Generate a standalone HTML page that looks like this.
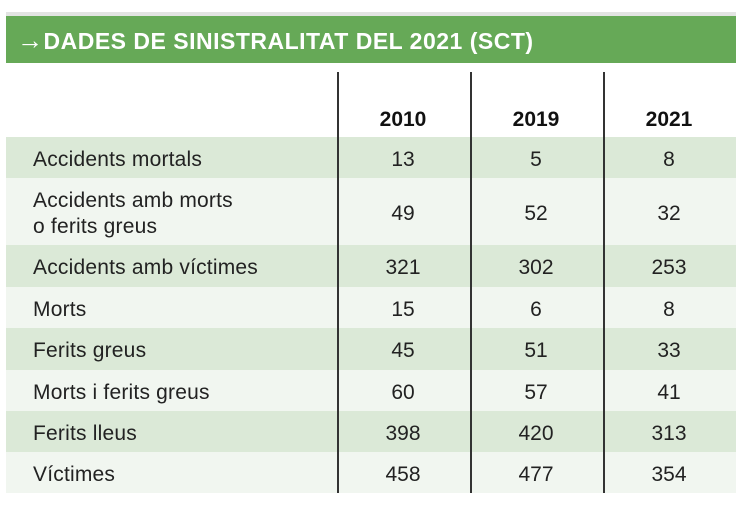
<!DOCTYPE html>
<html><head><meta charset="utf-8"><style>
body{margin:0;width:743px;height:513px;background:#fff;position:relative;font-family:"Liberation Sans",sans-serif;overflow:hidden}
.top{position:absolute;left:6px;top:12px;width:730px;height:5px;background:#e2e4e2}
.hdr{position:absolute;left:6px;top:16px;width:730px;height:47px;background:#66a957;color:#fff;font-weight:bold;font-size:23px;line-height:49px;padding-left:11px;box-sizing:border-box;letter-spacing:0.5px}
.row{position:absolute;left:6px;width:730px}
.d{background:#dbe9d7}.l{background:#f1f6f0}
.lab{position:absolute;left:27px;font-size:21px;color:#222;line-height:26px;letter-spacing:0.2px}
.v{position:absolute;width:100px;text-align:center;font-size:21px;color:#222}
.vl{position:absolute;top:72px;height:421px;width:1.5px;background:#333}
.yr{position:absolute;top:108px;width:100px;text-align:center;font-weight:bold;font-size:21px;color:#111}
</style></head><body>
<div class="top"></div>
<div class="hdr"><span style="font-size:26px">→</span>DADES DE SINISTRALITAT DEL 2021 (SCT)</div>
<div class="yr" style="left:353px">2010</div>
<div class="yr" style="left:486px">2019</div>
<div class="yr" style="left:619px">2021</div>
<div id="rows"></div>
<div class="vl" style="left:337px"></div>
<div class="vl" style="left:470px"></div>
<div class="vl" style="left:603px"></div>
<script>
var d=[["Accidents mortals","13","5","8",137,178,"d"],
["Accidents amb morts<br>o ferits greus","49","52","32",178,245,"l"],
["Accidents amb víctimes","321","302","253",245,287,"d"],
["Morts","15","6","8",287,328,"l"],
["Ferits greus","45","51","33",328,370,"d"],
["Morts i ferits greus","60","57","41",370,411,"l"],
["Ferits lleus","398","420","313",411,452,"d"],
["Víctimes","458","477","354",452,493,"l"]];
var h="";d.forEach(function(r){var t=r[4],hh=r[5]-r[4];var lines=r[0].indexOf("<br>")>0?2:1;
h+='<div class="row '+r[6]+'" style="top:'+t+'px;height:'+hh+'px"><div class="lab" style="top:'+((hh-26*lines)/2+2)+'px">'+r[0]+'</div>';
[r[1],r[2],r[3]].forEach(function(v,i){h+='<div class="v" style="left:'+(347+133*i)+'px;top:'+((hh-24)/2+2)+'px">'+v+'</div>'});h+='</div>'});
document.getElementById("rows").innerHTML=h;
</script>
</body></html>
